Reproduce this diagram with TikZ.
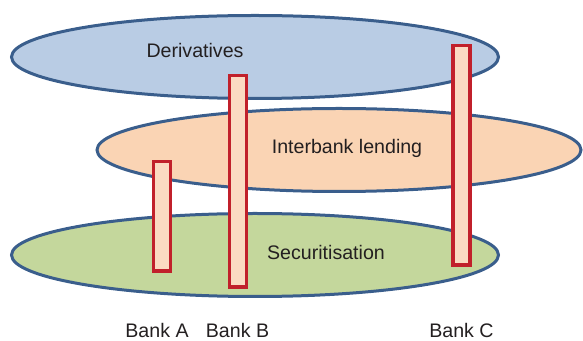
\documentclass[tikz,border=0pt]{standalone}
\usepackage{fontspec}
\setmainfont{Liberation Sans}
\usetikzlibrary{shapes.geometric}

\definecolor{rimblue}{HTML}{3A5E8C}
\definecolor{derivfill}{HTML}{B9CCE4}
\definecolor{lendfill}{HTML}{FAD4B4}
\definecolor{secfill}{HTML}{C4D79C}
\definecolor{barred}{HTML}{C1202B}
\definecolor{barfill}{HTML}{FBDAC2}
\definecolor{inktext}{HTML}{231F20}

\begin{document}
\begin{tikzpicture}[x=0.5pt, y=-0.5pt,
  every node/.style = {text=inktext, font=\fontsize{9.8}{12}\selectfont},
  market/.style = {ellipse, draw=rimblue, line width=1.5pt,
    inner sep=0pt, outer sep=0pt,
    minimum width=243.5pt, minimum height=41.5pt},
  bank/.style = {rectangle, draw=barred, fill=barfill, line width=1.75pt,
    inner sep=0pt, outer sep=0pt, minimum width=8.3pt}]
  \useasboundingbox (0,0) rectangle (583,341);

  % the three markets
  \node[market, fill=derivfill] (deriv) at (255,57) {};
  \node[market, fill=lendfill, minimum width=242pt] (lend) at (339,150) {};
  \node[market, fill=secfill] (secur) at (255,255) {};
  \node (derivlabel) at (195,50) {Derivatives};
  \node (lendlabel) at (347,148) {Interbank lending};
  \node (securlabel) at (326,252) {Securitisation};

  % banks cutting through the markets
  \node[bank, minimum height=54.75pt] (bankA) at (162,216.5) {};
  \node[bank, minimum height=105.75pt] (bankB) at (238,181.5) {};
  \node[bank, minimum height=109.75pt] (bankC) at (461.5,155.5) {};
  \node[anchor=base] (labelA) at (157,338) {Bank A};
  \node[anchor=base] (labelB) at (237.5,338) {Bank B};
  \node[anchor=base] (labelC) at (461.5,338) {Bank C};
\end{tikzpicture}
\end{document}
